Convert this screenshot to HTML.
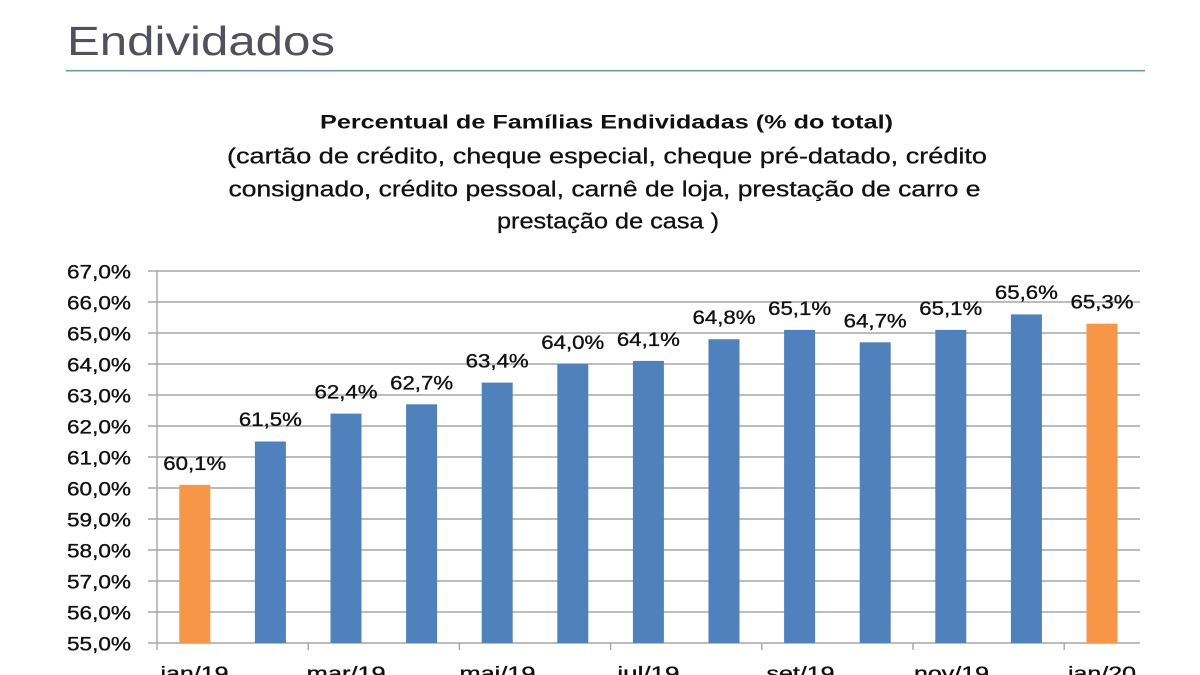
<!DOCTYPE html>
<html>
<head>
<meta charset="utf-8">
<style>
  html, body { margin: 0; padding: 0; background: #ffffff; }
  body { width: 1200px; height: 675px; overflow: hidden; }
  svg { display: block; }
  text { font-family: "Liberation Sans", "DejaVu Sans", sans-serif; }
</style>
</head>
<body>
<svg width="1200" height="675" viewBox="0 0 1200 675" xmlns="http://www.w3.org/2000/svg">
  <rect x="0" y="0" width="1200" height="675" fill="#ffffff"/>

  <!-- Slide title -->
  <text x="67" y="55" font-size="41" fill="#50505f" textLength="268" lengthAdjust="spacingAndGlyphs">Endividados</text>
  <line x1="66" y1="70.7" x2="1145" y2="70.7" stroke="#6f98a8" stroke-width="1.6"/>

  <!-- Chart title -->
  <text x="320" y="128.5" font-size="19" font-weight="bold" fill="#111" textLength="573" lengthAdjust="spacingAndGlyphs">Percentual de Famílias Endividadas (% do total)</text>
  <g stroke="#111" stroke-width="0.3">
  <text x="227" y="163.5" font-size="22" fill="#111" textLength="760" lengthAdjust="spacingAndGlyphs">(cartão de crédito, cheque especial, cheque pré-datado, crédito</text>
  <text x="228.5" y="196.5" font-size="22" fill="#111" textLength="752" lengthAdjust="spacingAndGlyphs">consignado, crédito pessoal, carnê de loja, prestação de carro e</text>
  <text x="497" y="228.5" font-size="22" fill="#111" textLength="222" lengthAdjust="spacingAndGlyphs">prestação de casa )</text>
  </g>

  <!-- Gridlines -->
  <g stroke="#a6a6a6" stroke-width="1.4">
    <line x1="148" y1="271" x2="1140" y2="271"/>
    <line x1="148" y1="302" x2="1140" y2="302"/>
    <line x1="148" y1="333" x2="1140" y2="333"/>
    <line x1="148" y1="364" x2="1140" y2="364"/>
    <line x1="148" y1="395" x2="1140" y2="395"/>
    <line x1="148" y1="426" x2="1140" y2="426"/>
    <line x1="148" y1="457" x2="1140" y2="457"/>
    <line x1="148" y1="488" x2="1140" y2="488"/>
    <line x1="148" y1="519" x2="1140" y2="519"/>
    <line x1="148" y1="550" x2="1140" y2="550"/>
    <line x1="148" y1="581" x2="1140" y2="581"/>
    <line x1="148" y1="612" x2="1140" y2="612"/>
    <line x1="148" y1="643" x2="1140" y2="643"/>
    <line x1="157" y1="271" x2="157" y2="650"/>
    <line x1="308.2" y1="643" x2="308.2" y2="650"/>
    <line x1="459.4" y1="643" x2="459.4" y2="650"/>
    <line x1="610.6" y1="643" x2="610.6" y2="650"/>
    <line x1="761.8" y1="643" x2="761.8" y2="650"/>
    <line x1="913" y1="643" x2="913" y2="650"/>
    <line x1="1064.2" y1="643" x2="1064.2" y2="650"/>
  </g>

  <!-- Y axis labels -->
  <g font-size="19" fill="#111" stroke="#111" stroke-width="0.35">
    <text x="67" y="278.5" textLength="64" lengthAdjust="spacingAndGlyphs">67,0%</text>
    <text x="67" y="309.5" textLength="64" lengthAdjust="spacingAndGlyphs">66,0%</text>
    <text x="67" y="340.5" textLength="64" lengthAdjust="spacingAndGlyphs">65,0%</text>
    <text x="67" y="371.5" textLength="64" lengthAdjust="spacingAndGlyphs">64,0%</text>
    <text x="67" y="402.5" textLength="64" lengthAdjust="spacingAndGlyphs">63,0%</text>
    <text x="67" y="433.5" textLength="64" lengthAdjust="spacingAndGlyphs">62,0%</text>
    <text x="67" y="464.5" textLength="64" lengthAdjust="spacingAndGlyphs">61,0%</text>
    <text x="67" y="495.5" textLength="64" lengthAdjust="spacingAndGlyphs">60,0%</text>
    <text x="67" y="526.5" textLength="64" lengthAdjust="spacingAndGlyphs">59,0%</text>
    <text x="67" y="557.5" textLength="64" lengthAdjust="spacingAndGlyphs">58,0%</text>
    <text x="67" y="588.5" textLength="64" lengthAdjust="spacingAndGlyphs">57,0%</text>
    <text x="67" y="619.5" textLength="64" lengthAdjust="spacingAndGlyphs">56,0%</text>
    <text x="67" y="650.5" textLength="64" lengthAdjust="spacingAndGlyphs">55,0%</text>
  </g>

  <!-- Bars -->
  <g>
    <rect x="179.3" y="484.9" width="31" height="158.1" fill="#f79646"/>
    <rect x="254.9" y="441.5" width="31" height="201.5" fill="#4f81bd"/>
    <rect x="330.5" y="413.6" width="31" height="229.4" fill="#4f81bd"/>
    <rect x="406.1" y="404.3" width="31" height="238.7" fill="#4f81bd"/>
    <rect x="481.7" y="382.6" width="31" height="260.4" fill="#4f81bd"/>
    <rect x="557.3" y="364" width="31" height="279" fill="#4f81bd"/>
    <rect x="632.9" y="360.9" width="31" height="282.1" fill="#4f81bd"/>
    <rect x="708.5" y="339.2" width="31" height="303.8" fill="#4f81bd"/>
    <rect x="784.1" y="329.9" width="31" height="313.1" fill="#4f81bd"/>
    <rect x="859.7" y="342.3" width="31" height="300.7" fill="#4f81bd"/>
    <rect x="935.3" y="329.9" width="31" height="313.1" fill="#4f81bd"/>
    <rect x="1010.9" y="314.4" width="31" height="328.6" fill="#4f81bd"/>
    <rect x="1086.5" y="323.7" width="31" height="319.3" fill="#f79646"/>
  </g>

  <!-- Value labels -->
  <g font-size="19" fill="#111" stroke="#111" stroke-width="0.35">
    <text x="163.3" y="470" textLength="63" lengthAdjust="spacingAndGlyphs">60,1%</text>
    <text x="238.9" y="426" textLength="63" lengthAdjust="spacingAndGlyphs">61,5%</text>
    <text x="314.5" y="398.4" textLength="63" lengthAdjust="spacingAndGlyphs">62,4%</text>
    <text x="390.1" y="389.3" textLength="63" lengthAdjust="spacingAndGlyphs">62,7%</text>
    <text x="465.7" y="367.5" textLength="63" lengthAdjust="spacingAndGlyphs">63,4%</text>
    <text x="541.3" y="349" textLength="63" lengthAdjust="spacingAndGlyphs">64,0%</text>
    <text x="616.9" y="346" textLength="63" lengthAdjust="spacingAndGlyphs">64,1%</text>
    <text x="692.5" y="324.2" textLength="63" lengthAdjust="spacingAndGlyphs">64,8%</text>
    <text x="768.1" y="315" textLength="63" lengthAdjust="spacingAndGlyphs">65,1%</text>
    <text x="843.7" y="327.3" textLength="63" lengthAdjust="spacingAndGlyphs">64,7%</text>
    <text x="919.3" y="315" textLength="63" lengthAdjust="spacingAndGlyphs">65,1%</text>
    <text x="994.9" y="298.8" textLength="63" lengthAdjust="spacingAndGlyphs">65,6%</text>
    <text x="1070.5" y="308.7" textLength="63" lengthAdjust="spacingAndGlyphs">65,3%</text>
  </g>

  <!-- X axis labels (partially cut off at the bottom) -->
  <g font-size="19" fill="#111" stroke="#111" stroke-width="0.35">
    <text x="160.5" y="680" textLength="68" lengthAdjust="spacingAndGlyphs">jan/19</text>
    <text x="306.7" y="680" textLength="79" lengthAdjust="spacingAndGlyphs">mar/19</text>
    <text x="459.5" y="680" textLength="76" lengthAdjust="spacingAndGlyphs">mai/19</text>
    <text x="617.4" y="680" textLength="62" lengthAdjust="spacingAndGlyphs">jul/19</text>
    <text x="766.5" y="680" textLength="68" lengthAdjust="spacingAndGlyphs">set/19</text>
    <text x="914" y="680" textLength="75" lengthAdjust="spacingAndGlyphs">nov/19</text>
    <text x="1068" y="680" textLength="68" lengthAdjust="spacingAndGlyphs">jan/20</text>
  </g>
</svg>
</body>
</html>
